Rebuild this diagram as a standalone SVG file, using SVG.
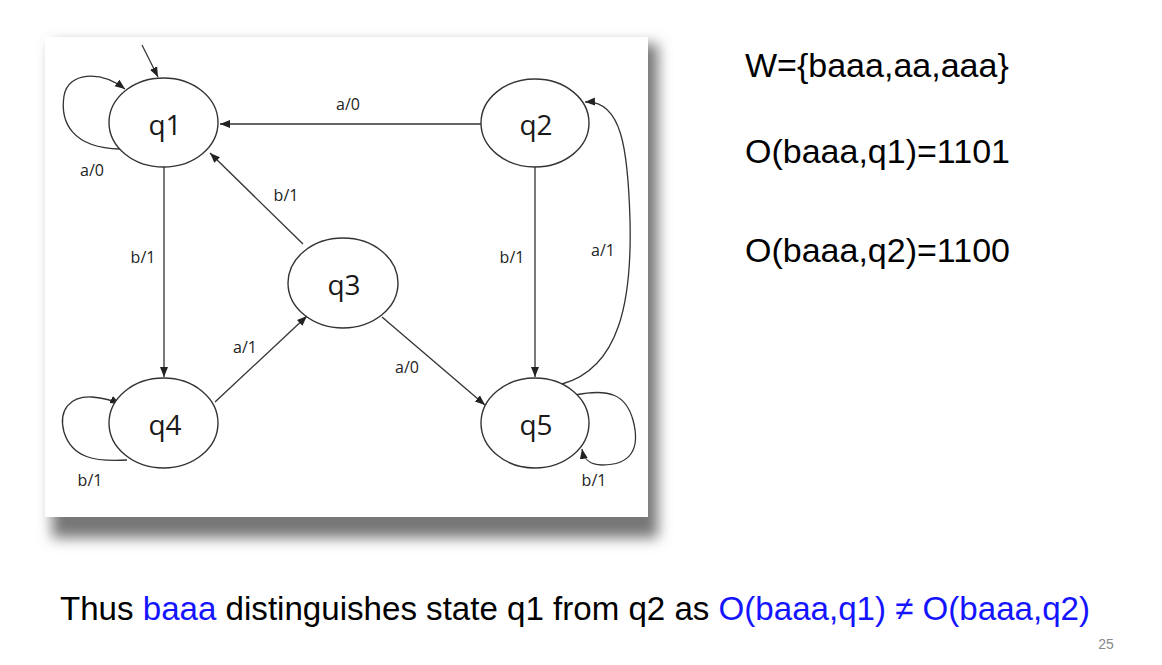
<svg xmlns="http://www.w3.org/2000/svg" width="1162" height="665" viewBox="0 0 1162 665">
<defs>
<filter id="sh" x="-10%" y="-10%" width="120%" height="120%"><feGaussianBlur stdDeviation="7"/></filter>
<marker id="ah" viewBox="0 0 10 10" refX="10" refY="5" markerWidth="10" markerHeight="10" markerUnits="userSpaceOnUse" orient="auto"><path d="M0,1 L10,5 L0,9 z" fill="#222"/></marker>
<style>
.st{fill:#fff;stroke:#333;stroke-width:1.4}
.nl{font-family:"Open Sans","DejaVu Sans",sans-serif;font-size:28px;fill:#1a1a1a;text-anchor:middle}
.el{font-family:"Open Sans","DejaVu Sans",sans-serif;font-size:16px;fill:#222;text-anchor:middle}
.ed{fill:none;stroke:#333;stroke-width:1.3;marker-end:url(#ah)}
.rt{font-family:"Liberation Sans",Arial,sans-serif;font-size:34px;fill:#000}
.bl{fill:#1414ff}
</style>
</defs>
<rect x="0" y="0" width="1162" height="665" fill="#fff"/>
<rect x="52" y="44" width="606" height="494" fill="#777" filter="url(#sh)"/>
<rect x="45" y="37" width="603" height="480" fill="#fff"/>

<g id="connectors">
<path class="ed" d="M142,45 L158,77"/>
<path class="ed" d="M120,149 C72,148 60,122 64,96 C68,72 100,70 125,89"/>
<path class="ed" d="M481,124 L220,124"/>
<path class="ed" d="M303,244 L210,153"/>
<path class="ed" d="M164,167 L164,377"/>
<path class="ed" d="M535,167 L535,377"/>
<path class="ed" d="M562,384 C620,368 632,300 630,220 C628,150 622,100 585,102"/>
<path class="ed" d="M215,402 L307,316"/>
<path class="ed" d="M382,317 L485,405"/>
<path class="ed" d="M127,460 C95,462 72,458 64,432 C58,410 70,396 92,397 C104,398 112,400 120,404"/>
<path class="ed" d="M575,395 C610,388 626,395 633,420 C641,450 630,465 602,465 C590,465 584,460 582,449"/>
<text class="el" x="348" y="110">a/0</text>
<text class="el" x="92" y="176">a/0</text>
<text class="el" x="286" y="201">b/1</text>
<text class="el" x="143" y="263">b/1</text>
<text class="el" x="512" y="263">b/1</text>
<text class="el" x="603" y="256">a/1</text>
<text class="el" x="245" y="353">a/1</text>
<text class="el" x="407" y="373">a/0</text>
<text class="el" x="90" y="486">b/1</text>
<text class="el" x="594" y="486">b/1</text>
</g>

<g id="q1"><ellipse class="st" cx="163.5" cy="122.5" rx="54.5" ry="44.5"/><text class="nl" x="165" y="135">q1</text></g>
<g id="q2"><ellipse class="st" cx="535" cy="123" rx="54" ry="44"/><text class="nl" x="536" y="135">q2</text></g>
<g id="q3"><ellipse class="st" cx="343" cy="283" rx="55" ry="45"/><text class="nl" x="344" y="295">q3</text></g>
<g id="q4"><ellipse class="st" cx="163.5" cy="423" rx="54.5" ry="45"/><text class="nl" x="165" y="435">q4</text></g>
<g id="q5"><ellipse class="st" cx="535" cy="423" rx="54" ry="45"/><text class="nl" x="536" y="435">q5</text></g>

<g id="notes">
<text class="rt" x="745" y="77">W={baaa,aa,aaa}</text>
<text class="rt" x="745" y="163">O(baaa,q1)=1101</text>
<text class="rt" x="745" y="262">O(baaa,q2)=1100</text>
<text class="rt" x="60" y="620" font-size="31" textLength="1030" lengthAdjust="spacingAndGlyphs">Thus <tspan class="bl">baaa</tspan> distinguishes state q1 from q2 as <tspan class="bl">O(baaa,q1) ≠ O(baaa,q2)</tspan></text>
<text x="1106" y="649" font-family="Liberation Sans, Arial, sans-serif" font-size="14" fill="#888" text-anchor="middle">25</text>
</g>
</svg>
